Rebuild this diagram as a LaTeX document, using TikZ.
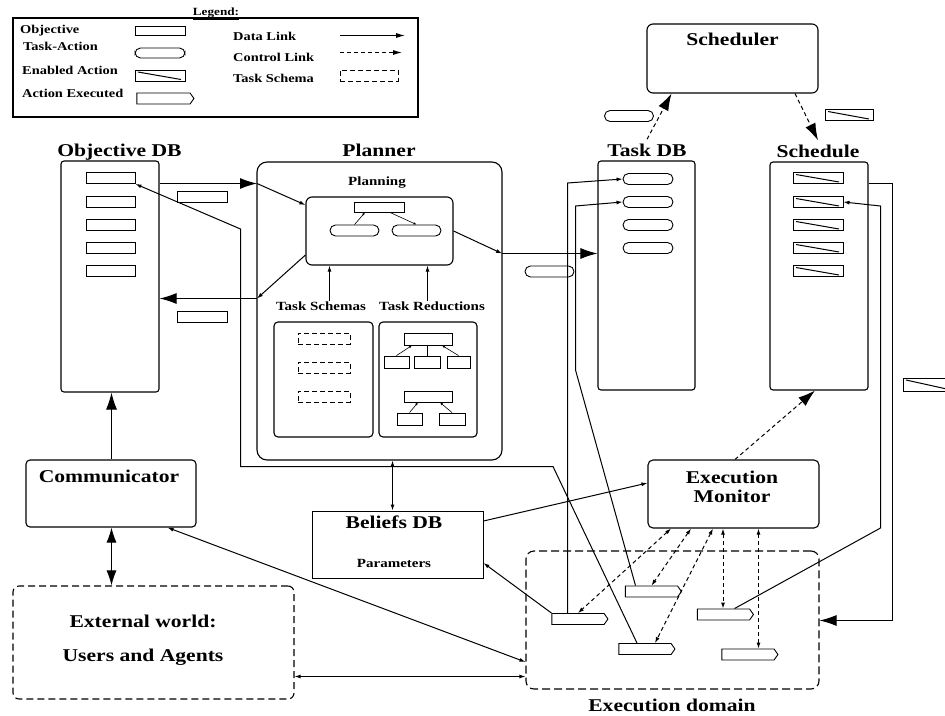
\documentclass[tikz,border=0pt]{standalone}
\usepackage{fontspec}
\newfontfamily\wf[FakeStretch=1.2]{Liberation Serif}
\usetikzlibrary{arrows.meta,shapes.symbols}
\begin{document}
\begin{tikzpicture}[x=1pt,y=-1pt,
 box/.style={draw,line width=1.1pt,inner sep=0pt,rounded corners=3pt},
 ttl/.style={font=\wf\bfseries\fontsize{18}{20}\selectfont,inner sep=0pt,anchor=base},
 sml/.style={font=\wf\bfseries\fontsize{12.5}{14}\selectfont,inner sep=0pt,anchor=base},
 lgd/.style={font=\wf\bfseries\fontsize{12}{13}\selectfont,inner sep=0pt,anchor=base west},
 icon/.style={draw,line width=0.9pt,inner sep=0pt,minimum width=49pt,minimum height=11pt},
 objicon/.style={icon},
 taicon/.style={icon,rounded corners=5.5pt},
 enicon/.style={icon,path picture={\draw[line width=1pt] ([shift={(3pt,-2pt)}]path picture bounding box.north west) -- ([shift={(-4pt,1.5pt)}]path picture bounding box.south east);}},
 exicon/.style={icon,signal,signal to=east,signal pointer angle=110,minimum width=56pt},
 schicon/.style={icon,dash pattern=on 5pt off 3pt,minimum width=52pt},
 link/.style={line width=1pt},
 sarr/.style={link,-{Latex[length=6pt,width=4pt]}},
 sboth/.style={link,{Latex[length=6pt,width=4pt]}-{Latex[length=6pt,width=4pt]}},
 barr/.style={link,-{Latex[length=17pt,width=11pt]}},
 bboth/.style={link,{Latex[length=15pt,width=10pt]}-{Latex[length=15pt,width=10pt]}},
 ctl/.style={dash pattern=on 4pt off 3pt},
 tiny/.style={line width=0.6pt,-{Latex[length=3pt,width=2.5pt]}}
]
\useasboundingbox (0,0) rectangle (945,715);
% ---------------- legend
\node[draw,line width=1.6pt,minimum width=405pt,minimum height=99pt,inner sep=0pt] (legend) at (215.5,67.5) {};
\node[font=\wf\bfseries\fontsize{11}{12}\selectfont,inner sep=0pt,anchor=base] (legtitle) at (216,15) {\underline{Legend:}};
\node[lgd] (lg1) at (20,33) {Objective};
\node[lgd] (lg2) at (23,50) {Task-Action};
\node[lgd] (lg3) at (22,74) {Enabled Action};
\node[lgd] (lg4) at (22,97) {Action Executed};
\node[lgd] (lg5) at (233,40) {Data Link};
\node[lgd] (lg6) at (233,61) {Control Link};
\node[lgd] (lg7) at (233,82) {Task Schema};
\node[objicon,minimum height=9pt,minimum width=50pt] (li1) at (160,31) {};
\node[taicon,minimum height=10pt,minimum width=50pt] (li2) at (160,53) {};
\node[enicon,minimum width=50pt] (li3) at (160,75.5) {};
\node[exicon,minimum width=57pt] (li4) at (163.5,98.5) {};
\coordinate (ld1) at (340,35.5); \coordinate (ld2) at (405,35.5);
\draw[link,-{Latex[length=9pt,width=5pt]}] (ld1) -- (ld2);
\coordinate (lc1) at (340,52.5); \coordinate (lc2) at (402,52.5);
\draw[link,ctl,-{Latex[length=9pt,width=5pt]}] (lc1) -- (lc2);
\node[schicon,minimum width=58pt] (li7) at (369,75.5) {};
% ---------------- scheduler
\node[box,rounded corners=6pt,minimum width=171pt,minimum height=69pt] (scheduler) at (732.5,58.5) {};
\node[ttl] (schedulert) at (732.5,45) {Scheduler};
% ---------------- objective DB
\node[ttl] (objdbt) at (119.5,156) {Objective DB};
\node[box,minimum width=98pt,minimum height=231pt] (objdb) at (110,276.5) {};
\foreach \i/\y in {1/178,2/202,3/224.5,4/248,5/271}{\node[objicon] (o\i) at (110.5,\y) {};}
% ---------------- task DB
\node[ttl] (taskdbt) at (647,156) {Task DB};
\node[box,minimum width=97pt,minimum height=229pt] (taskdb) at (646.5,275.5) {};
\foreach \i/\y in {1/179,2/202,3/225,4/248}{\node[taicon,minimum width=50pt] (t\i) at (648,\y) {};}
% ---------------- schedule
\node[ttl] (schedt) at (818,157) {Schedule};
\node[box,minimum width=98pt,minimum height=228pt] (schedule) at (819,276) {};
\foreach \i/\y in {1/178,2/202,3/225,4/248,5/271}{\node[enicon,minimum width=50pt] (s\i) at (818,\y) {};}
% ---------------- planner
\node[ttl] (plannert) at (379,156) {Planner};
\node[box,rounded corners=10pt,minimum width=245pt,minimum height=298pt] (planner) at (379.5,311) {};
\node[sml] (planningt) at (377,185) {Planning};
\node[box,rounded corners=6pt,minimum width=147pt,minimum height=68pt] (planning) at (379.5,231) {};
\node[objicon,minimum width=50pt,minimum height=10pt] (ptop) at (379,207) {};
\node[taicon] (pl) at (354.5,230.5) {};
\node[taicon] (pr) at (416.5,230.5) {};
\draw[tiny] (pl.north) -- ([xshift=-14pt]ptop.south);
\draw[tiny] ([xshift=11pt]ptop.south) -- (pr.north);
\node[sml] (schemast) at (321,310) {Task Schemas};
\node[sml] (reductt) at (432,310) {Task Reductions};
\node[box,rounded corners=4pt,minimum width=99pt,minimum height=115pt] (schemas) at (323.5,379.5) {};
\node[box,rounded corners=4pt,minimum width=98pt,minimum height=115pt] (reduct) at (428,379.5) {};
\node[schicon] (sc1) at (324,338.5) {};
\node[schicon] (sc2) at (324,367.5) {};
\node[schicon] (sc3) at (324,396.5) {};
\node[objicon,minimum width=48pt,minimum height=12pt] (r1) at (428,339) {};
\node[objicon,minimum width=25pt,minimum height=12pt] (r1a) at (396.5,362) {};
\node[objicon,minimum width=26pt,minimum height=12pt] (r1b) at (427,362) {};
\node[objicon,minimum width=23pt,minimum height=12pt] (r1c) at (458.5,362) {};
\node[objicon,minimum width=48pt,minimum height=11pt] (r2) at (428,396.5) {};
\node[objicon,minimum width=25pt,minimum height=12pt] (r2a) at (409.5,419) {};
\node[objicon,minimum width=26pt,minimum height=12pt] (r2b) at (452,419) {};
\draw[tiny] (r1a.north) -- ([xshift=-16pt]r1.south);
\draw[line width=0.6pt] (r1b.north) -- (r1b.north |- r1.south);
\draw[tiny] (r1c.north) -- ([xshift=14pt]r1.south);
\draw[tiny] (r2a.north) -- ([xshift=-10pt]r2.south);
\draw[tiny] (r2b.north) -- ([xshift=12pt]r2.south);
\draw[sarr] ([xshift=-50pt]planning.south |- schemast.north) -- ([xshift=-50pt]planning.south);
\draw[sarr] ([xshift=48pt]planning.south |- reductt.north) -- ([xshift=48pt]planning.south);
% ---------------- beliefs, monitor, domains
\node[draw,line width=1pt,inner sep=0pt,minimum width=171pt,minimum height=67pt] (beliefs) at (397.5,544.5) {};
\node[ttl] (beliefst) at (394,528) {Beliefs DB};
\node[sml] (paramt) at (394,567) {Parameters};
\node[box,rounded corners=5pt,minimum width=171pt,minimum height=68pt] (monitor) at (733.5,494) {};
\node[ttl] (monitort1) at (732,483) {Execution};
\node[ttl] (monitort2) at (732,502) {Monitor};
\node[box,dash pattern=on 8pt off 4pt,rounded corners=8pt,minimum width=293pt,minimum height=138pt] (execd) at (672.5,620) {};
\node[ttl] (execdt) at (672,711) {Execution domain};
\node[box,rounded corners=4pt,minimum width=170pt,minimum height=67pt] (comm) at (111,493.5) {};
\node[ttl] (commt) at (109,482) {Communicator};
\node[box,dash pattern=on 7pt off 4pt,rounded corners=6pt,minimum width=281pt,minimum height=113pt] (ext) at (153.5,642.5) {};
\node[ttl] (extt1) at (143,627) {External world:};
\node[ttl] (extt2) at (143,661) {Users and Agents};
% execution icons
\node[exicon] (e1) at (578,619) {};
\node[exicon] (e2) at (651.5,591.5) {};
\node[exicon] (e3) at (645,649) {};
\node[exicon] (e4) at (723.5,614.5) {};
\node[exicon] (e5) at (748,654.5) {};
% free icons on links
\node[objicon,minimum width=50pt] (fo1) at (202,196.5) {};
\node[objicon,minimum width=50pt] (fo2) at (202,316.5) {};
\node[taicon] (fta1) at (549.5,271.5) {};
\node[taicon] (fta2) at (629,116) {};
\node[enicon,minimum width=48pt] (fen1) at (849,115) {};
\node[enicon,minimum width=50pt,minimum height=13pt] (fen2) at (928,384.5) {};
% ---------------- connectors
\draw[barr] ([xshift=0.5pt]comm.north) -- ([xshift=0.5pt]comm.north |- objdb.south);
\draw[bboth] ([xshift=0.5pt]comm.south) -- ([xshift=0.5pt]comm.south |- ext.north);
\draw[sboth] ([yshift=-34pt]ext.east) -- ([yshift=-34pt]ext.east -| execd.west);
\draw[sboth] ([xshift=-29pt]comm.south east) -- ([yshift=-42pt]execd.west);
\coordinate (a1) at (257,183.5);
\draw[barr] (objdb.east |- a1) -- (a1);
\draw[sarr] (a1) -- ([yshift=26pt]planning.west);
\coordinate (a2) at (257,298.5);
\draw[sarr] ([yshift=-24pt]planning.west) -- (a2);
\draw[barr] (a2) -- (objdb.east |- a2);
\coordinate (a3) at (502,253.5);
\draw[sarr] (planning.east) -- (a3);
\draw[barr] (a3) -- (taskdb.west |- a3);
\draw[sboth] ([xshift=13pt]planner.south) -- ([xshift=13pt]planner.south |- beliefs.north);
\draw[sarr] ([yshift=23.5pt]beliefs.east) -- ([yshift=11pt]monitor.west);
\draw[sarr] (e1.north west) -- ([yshift=-18.5pt]beliefs.east);
\coordinate (b1) at (553,466.5); \coordinate (b2) at (240.5,466.5); \coordinate (b3) at (240.5,229);
\draw[sarr] ([xshift=-8pt]e3.north) -- (b1) -- (b2) -- (b3) -- (o1.south east);
\coordinate (c1) at (567.5,183);
\draw[sarr] ([xshift=-10.5pt]e1.north) -- (c1) -- (t1.west);
\coordinate (c2) at (575.5,370); \coordinate (c3) at (575.5,206);
\draw[sarr] ([xshift=-16pt]e2.north) -- (c2) -- (c3) -- (t2.west);
\draw[barr,ctl] ([yshift=4pt]taskdbt.north) -- ([xshift=-61pt]scheduler.south);
\draw[barr,ctl] ([xshift=62.5pt]scheduler.south) -- ([yshift=4pt]schedt.north);
\coordinate (d1) at (892.5,183.5); \coordinate (d2) at (892.5,620.5);
\draw[link] (schedule.east |- d1) -- (d1) -- (d2);
\draw[barr] (d2) -- (execd.east |- d2);
\coordinate (d3) at (880.5,528); \coordinate (d4) at (880.5,206);
\draw[sarr] ([xshift=11pt]e4.north) -- (d3) -- (d4) -- (s2.east);
\draw[barr,ctl] ([xshift=1.5pt]monitor.north) -- ([xshift=-4pt]schedule.south);
\draw[sboth,ctl] ([xshift=-62.5pt]monitor.south) -- (e1.north);
\draw[sboth,ctl] ([xshift=-42.5pt]monitor.south) -- (e2.north);
\draw[sboth,ctl] ([xshift=-20.5pt]monitor.south) -- ([xshift=10pt]e3.north);
\draw[sboth,ctl] ([xshift=-0.5pt]e4.north |- monitor.south) -- ([xshift=-0.5pt]e4.north);
\draw[sboth,ctl] ([xshift=10.5pt]e5.north |- monitor.south) -- ([xshift=10.5pt]e5.north);
\end{tikzpicture}
\end{document}
